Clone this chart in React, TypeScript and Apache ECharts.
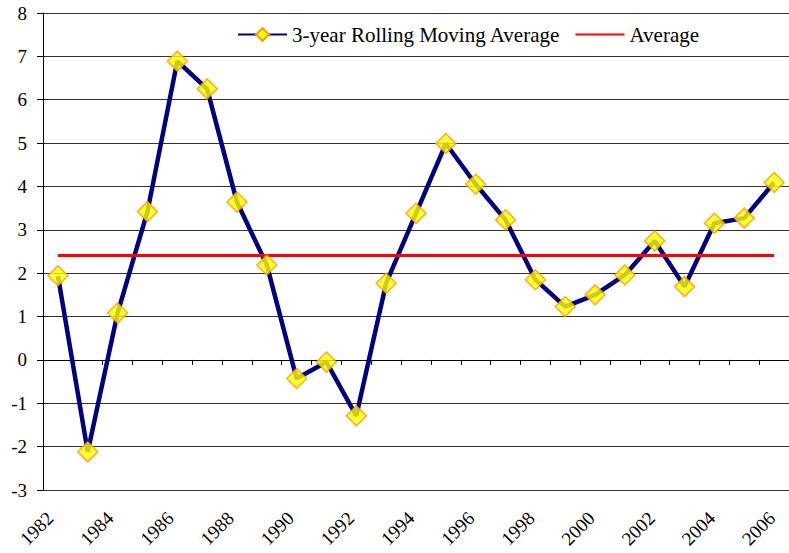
import React, { useEffect, useRef } from "react";
import * as echarts from "echarts";

const years = [
  "1982", "1983", "1984", "1985", "1986", "1987", "1988", "1989", "1990",
  "1991", "1992", "1993", "1994", "1995", "1996", "1997", "1998", "1999",
  "2000", "2001", "2002", "2003", "2004", "2005", "2006",
];

const rollingAverage = [
  1.94, -2.12, 1.08, 3.42, 6.89, 6.25, 3.64, 2.19, -0.43, -0.05, -1.29, 1.77,
  3.38, 4.99, 4.05, 3.23, 1.85, 1.23, 1.5, 1.96, 2.74, 1.69, 3.15, 3.27, 4.09,
];

const overallAverage = 2.41;

const yMin = -3;
const yMax = 8;
const yInterval = 1;

const ROLLING = "3-year Rolling Moving Average";
const AVERAGE = "Average";

export default function App() {
  const ref = useRef<HTMLDivElement>(null);

  useEffect(() => {
    if (!ref.current) return;
    const chart = echarts.init(ref.current, null, { renderer: "svg" });
    const font = "'Liberation Serif', serif";
    const averageData = years.map(() => overallAverage);
    const labelStyle = {
      fontSize: 19,
      color: "#000",
      fontFamily: font,
    };
    const rich = { t: { fontSize: 19, color: "#000", fontFamily: font } };

    chart.setOption({
      animation: false,
      backgroundColor: "#ffffff",
      textStyle: { fontFamily: font, color: "#000" },
      legend: {
        left: 237,
        top: 24,
        padding: 0,
        itemWidth: 49,
        itemHeight: 16,
        itemGap: 14,
        data: [
          { name: ROLLING },
          { name: AVERAGE, itemStyle: { opacity: 0 } },
        ],
        textStyle: { fontSize: 21, color: "#000", fontFamily: font },
      },
      grid: [
        { left: 43, right: -6, top: 13, bottom: 63, containLabel: false },
        { left: 35, right: 2, top: 13, bottom: 63, containLabel: false },
      ],
      xAxis: [
        {
          type: "category",
          gridIndex: 0,
          data: years,
          boundaryGap: true,
          axisLine: { show: true, onZero: true, lineStyle: { color: "#000", width: 1 } },
          axisTick: { show: true, interval: 0, length: 5, lineStyle: { color: "#000" } },
          axisLabel: { show: false },
          splitLine: { show: false },
        },
        {
          type: "category",
          gridIndex: 1,
          data: years,
          boundaryGap: true,
          axisLine: { show: false, onZero: false },
          axisTick: { show: false },
          splitLine: { show: false },
          axisLabel: {
            interval: 1,
            rotate: 45,
            margin: 25,
            ...labelStyle,
            formatter: (v: string) => `{t|${v}}`,
            rich,
          },
        },
      ],
      yAxis: [
        {
          type: "value",
          gridIndex: 0,
          min: yMin,
          max: yMax,
          interval: yInterval,
          axisLine: { show: true, lineStyle: { color: "#000", width: 1 } },
          axisTick: { show: true, length: 6, lineStyle: { color: "#000" } },
          axisLabel: {
            margin: 16,
            ...labelStyle,
            formatter: (v: number) => `{t|${v}}`,
            rich,
          },
          splitLine: { show: true, lineStyle: { color: "#333", width: 1 } },
        },
        {
          type: "value",
          gridIndex: 1,
          min: yMin,
          max: yMax,
          interval: yInterval,
          show: false,
        },
      ],
      series: [
        {
          name: ROLLING,
          type: "line",
          xAxisIndex: 0,
          yAxisIndex: 0,
          data: rollingAverage,
          symbol: "diamond",
          symbolSize: 20,
          z: 2,
          lineStyle: { color: "#000080", width: 4.5 },
          itemStyle: { color: "#FFFF00", borderColor: "#FF9900", borderWidth: 1.5 },
        },
        {
          name: AVERAGE,
          type: "line",
          xAxisIndex: 0,
          yAxisIndex: 0,
          data: averageData,
          symbol: "none",
          showSymbol: false,
          z: 3,
          lineStyle: { color: "#FF0000", width: 3 },
          itemStyle: { color: "#FF0000" },
        },
        {
          name: ROLLING,
          type: "scatter",
          xAxisIndex: 0,
          yAxisIndex: 0,
          data: rollingAverage,
          symbol: "diamond",
          symbolSize: 20,
          z: 4,
          itemStyle: { color: "#FFFF00", borderColor: "#FF9900", borderWidth: 1.5 },
        },
      ],
    });

    return () => {
      chart.dispose();
    };
  }, []);

  return (
    <div
      ref={ref}
      style={{ position: "fixed", left: 0, top: 0, width: 789, height: 553 }}
    />
  );
}
